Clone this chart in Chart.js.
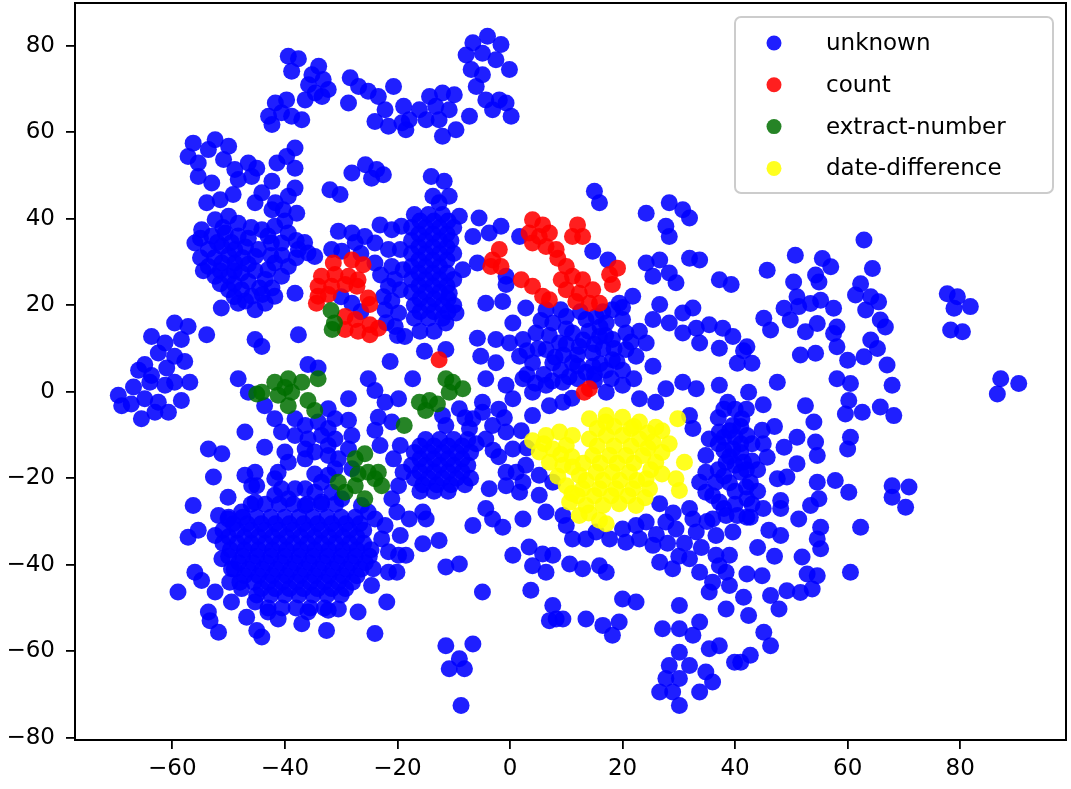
<!DOCTYPE html>
<html>
<head>
<meta charset="utf-8">
<title>t-SNE scatter</title>
<script src="https://cdn.jsdelivr.net/npm/chart.js@4.4.1/dist/chart.umd.min.js"></script>
<style>
    html, body { margin: 0; padding: 0; background: #ffffff; }
    #wrap { width: 1071px; height: 789px; }
</style>
</head>
<body>
<div id="wrap"><canvas id="tsneChart" width="1071" height="789"></canvas></div>
<script>
// Eixos
const xTicks = [-60, -40, -20, 0, 20, 40, 60, 80];
const yTicks = [-80, -60, -40, -20, 0, 20, 40, 60, 80];
const seriesLabels = ['unknown', 'count', 'extract-number', 'date-difference'];

// unknown - aglomerados do alto
const unknownTop = [
    [-39.4,77.6],[-37.6,77.0],[-38.8,74.1],
    [-34.0,75.3],[-35.2,73.3],[-33.2,72.2],[-35.8,71.0],[-32.3,69.9],[-34.6,69.1],[-36.4,67.5],[-33.4,68.3],
    [-28.4,72.6],[-26.9,70.6],[-25.2,69.5],[-23.4,68.3],[-20.7,70.6],[-28.7,66.8],[-22.2,65.2],[-24.0,62.5],[-21.6,61.4],[-19.2,62.2],[-18.9,66.0],
    [-41.7,66.8],[-39.7,67.5],[-42.9,63.7],[-40.6,64.5],[-38.8,63.7],[-37.0,62.9],[-42.3,61.8],
    [-6.6,80.7],[-4.0,82.2],[-1.6,80.3],[-7.8,77.9],[-4.9,78.3],[-2.5,76.8],[-6.9,74.5],[-4.9,73.3],[-0.1,74.5],
    [-6.0,70.6],[-4.3,67.5],[-1.9,67.5],[-0.7,66.8],[-3.1,65.2],[0.2,63.7],
    [-14.3,68.3],[-12.0,69.1],[-9.9,68.7],[-16.1,65.2],[-13.2,66.0],[-10.8,65.2],[-17.9,62.9],[-14.9,62.9],
    [-12.6,62.9],[-9.6,60.6],[-12.0,59.1],[-7.2,63.7],[-18.5,60.6]
];

// unknown - quadrante superior esquerdo
const unknownUpperLeft = [
    [-56.3,57.5],[-57.2,54.4],[-55.4,52.9],[-52.4,58.3],[-50.0,56.8],[-53.6,56.0],[-50.9,53.7],[-48.9,51.4],[-46.5,52.9],
    [-45.0,51.7],[-55.4,49.8],[-53.0,48.3],[-48.3,49.1],[-45.9,49.8],
    [-38.2,56.4],[-39.7,54.4],[-41.4,52.9],[-38.2,51.7],[-42.3,48.7],
    [-28.1,50.6],[-25.7,52.5],[-23.7,51.4],[-22.5,50.2],[-24.6,49.4],
    [-32.0,46.7],[-30.2,45.6],[-53.9,43.7],[-51.5,44.4],[-49.2,45.6],
    [-44.1,46.0],[-45.3,43.7],[-41.7,43.7],[-39.4,45.2],[-38.2,47.1],[-37.9,41.3],[-40.3,42.1],[-42.3,42.1],
    [-54.8,37.5],[-52.4,39.8],[-50.0,40.6],[-48.3,39.0],[-56.0,34.4],[-53.0,36.0],[-50.6,36.7],[-48.3,36.0],
    [-53.6,32.9],[-51.2,33.6],[-48.9,32.9],[-53.6,29.0],[-51.2,29.8],[-48.9,29.8],[-52.4,26.7],[-50.0,26.7],
    [-47.7,27.5],[-50.0,23.6],[-47.7,23.6],[-48.3,20.5],[-45.9,22.1],[-45.3,19.0],
    [-45.3,28.0],[-43.5,26.0],[-42.3,24.0],[-43.5,20.5],[-41.8,22.1],[-51.3,19.4],[-38.2,22.8],
    [-44.1,37.5],[-41.8,38.3],[-39.4,36.7],[-42.4,34.4],[-44.7,32.9],[-40.6,34.4],[-35.9,32.1],[-34.7,31.3],[-37.6,32.9],
    [-41.8,29.8],[-39.4,29.0],[-40.6,26.7],[-43.0,28.2],[-45.3,31.3],
    [-63.7,12.8],[-59.6,15.9],[-57.2,15.1],[-53.9,13.2],[-61.3,11.3],[-58.4,12.1],[-62.5,9.0],[-59.6,8.2],
    [-64.9,6.3],[-57.8,7.0],[-66.0,5.0],[-61.0,5.5],
    [-37.6,13.2],[-45.3,12.1],[-44.1,10.5],[-35.9,6.3],[-34.1,5.5]
];

// unknown - preenchimento do bloco esquerdo (-57..-36, 20..40)
const unknownLeftFill = [
    [-55,35.5],[-52,34.5],[-49.5,34.5],[-47,33.5],[-55,31],[-52.5,31],[-50,31.5],[-47.5,31],[-54.5,28],[-51.5,28],
    [-49,28],[-46.5,29.5],[-51.5,25],[-49,25],[-46.5,25.5],[-44.5,24],[-49,22],[-47,21],[-44,22.5],[-51,38],
    [-46,38],[-46.5,35.5],[-43,36],[-40.5,31.5],[-38,31],[-42.5,31.5],[-38,35],[-36.5,34.5],[-40,39.5]
];

// unknown - bloco em torno de (-20, 30)
const unknownUpperMid = [
    [-30.5,37.1],[-28.1,36.7],[-25.8,35.9],[-23.1,38.6],[-21.0,37.5],[-19.3,38.3],[-24.0,34.4],[-21.6,32.9],
    [-19.5,32.9],[-31.7,32.9],[-29.9,32.5],[-24.0,29.8],[-21.0,29.0],[-19.0,28.2],[-21.6,24.4],[-19.5,23.6],
    [-22.2,19.0],[-19.8,18.2],[-20.4,15.1],[-18.7,12.8],[-21.3,7.0],
    [-27.5,34.5],[-26.5,32.0],[-23.0,27.0],[-22.5,22.0],[-20.5,26.0],[-21.0,21.0],[-22.0,16.0],[-20.0,13.0],
    [-28.1,20.5],[-26.5,18.5],[-30.0,22.0],
    [-17.0,41.0],[-14.5,41.0],[-12.0,41.0],
    [-17.5,38.0],[-15.0,38.0],[-12.5,38.0],[-10.0,38.0],
    [-17.5,35.0],[-15.0,35.0],[-12.5,35.0],[-10.5,35.0],
    [-17.5,32.0],[-15.0,32.0],[-12.5,32.0],[-10.0,32.0],
    [-17.5,29.0],[-15.0,29.0],[-12.5,29.0],
    [-17.5,26.0],[-15.0,26.0],[-12.5,26.0],[-10.0,26.0],
    [-17.5,23.0],[-15.0,23.0],[-12.5,23.0],
    [-17.0,20.0],[-14.5,20.0],[-12.0,20.0],[-10.0,20.0],
    [-17.0,17.0],[-14.5,17.0],[-12.0,17.0],
    [-16.0,14.0],[-13.5,14.0],
    [-16.0,39.5],[-13.5,39.5],[-11.0,39.5],[-16.2,36.5],[-13.7,36.5],[-11.2,36.5],[-16.2,33.5],[-13.7,33.5],
    [-11.2,33.5],[-16.2,30.5],[-13.7,30.5],[-11.2,30.5],[-16.2,27.5],[-13.7,27.5],[-11.2,27.5],[-16.2,24.5],
    [-13.7,24.5],[-11.2,24.5],[-16.0,21.5],[-13.5,21.5],[-11.0,21.5],[-16.0,18.5],[-13.5,18.5],[-11.0,18.5],
    [-10.8,22.8],[-9.6,18.2],[-11.4,15.9],
    [-14.0,49.8],[-11.7,48.7],[-13.7,45.2],[-10.8,45.2],[-12.6,43.7],
    [-9.0,40.6],[-5.5,40.2],[-1.6,38.3],[-3.7,36.7],[-6.6,35.9],[-5.8,29.8],[-8.4,28.2],[1.7,35.9],
    [-0.7,24.8],[-4.3,20.5],[-1.3,20.9],[0.5,15.9],[-5.8,12.4],[-2.5,12.1],[-0.1,11.3],[-15.2,9.4],
    [-11.4,9.8],[-5.2,8.2],[-2.5,6.7],[-0.7,26.7]
];

// unknown - quadrante superior direito
const unknownUpperRight = [
    [15.0,46.4],[15.9,43.7],
    [24.2,41.3],[28.3,43.7],[30.7,42.1],[31.9,40.2],[27.7,38.3],[28.3,35.9],
    [24.2,29.8],[26.6,30.5],[25.4,26.7],[28.3,27.5],[29.5,25.2],[31.9,30.9],[33.7,30.5],[37.2,25.9],[39.3,24.8],
    [26.6,20.2],[30.7,18.2],[32.5,19.4],[25.4,16.7],[28.3,15.9],[30.7,13.6],[33.1,14.7],[35.4,15.5],
    [37.8,14.7],[33.7,11.3],[37.2,10.1],[39.6,12.8],[24.2,11.3],[22.4,8.2],[25.4,5.9],
    [21.8,22.1],[17.4,30.5],[14.7,32.5],[19.4,20.5],
    [2.8,19.4],[6.4,19.0],[2.3,12.1],[4.6,13.6],[7.6,15.9],[10.0,17.4],[11.1,13.6],[13.5,16.7],[15.3,17.4],
    [17.1,15.9],[18.2,19.0],[20.0,16.7],[20.6,13.6],[18.2,12.1],[15.9,12.8],[6.4,9.8],[8.8,11.3],[12.3,10.5],
    [14.7,9.0],[4.0,6.7],[7.6,6.7],[11.1,6.7],[14.7,5.9],[18.2,7.4],[20.6,9.8],[1.7,8.2],
    [9.5,8.5],[13.0,12.0],[16.5,10.0],
    [3.0,4.0],[6.0,4.0],[9.0,5.0],[12.0,6.0],[15.0,4.0],[17.0,5.0],[5.0,10.0],[10.0,11.0],[14.0,14.0],
    [17.0,13.0],[20.0,5.0],[22.0,3.0],
    [4.5,2.0],[7.5,2.5],[10.5,3.5],[13.5,4.5],[16.0,6.5],[19.0,7.0],[3.0,9.5],[8.0,8.0],[12.0,8.5],[15.0,11.0],
    [18.5,10.0],[21.5,11.5],[7.0,13.0],[10.0,14.5],[16.0,15.0],[5.5,16.5],[9.0,19.0],[12.5,18.5],[16.5,18.5],
    [20.0,19.5],[23.0,14.0],
    [45.7,28.1],[50.7,31.6],[55.5,30.8],[57.0,28.9],[54.3,27.0],[54.9,25.4],[50.4,25.4],[62.9,35.1],
    [64.4,28.5],[62.3,25.0],[61.4,22.4],[64.1,22.0],[65.5,20.8],[63.2,18.9],[51.0,22.0],[48.7,19.3],
    [51.3,19.7],[53.4,20.4],[55.2,21.2],[57.5,19.3],[49.8,16.6],[45.1,17.0],[46.3,14.3],[52.5,13.9],
    [54.6,15.8],[58.1,15.0],[57.5,13.5],[58.1,10.4],[51.6,8.5],[54.3,8.9],[60.0,7.3],[62.9,8.1],
    [65.3,10.0],[64.1,12.0],[66.7,15.0],[65.8,16.6],[42.1,10.4],[43.0,6.6],[40.4,6.6],[67.0,6.2],[41.5,9.5],
    [77.7,22.7],[79.5,22.0],[81.8,19.7],[78.9,19.3],[78.3,14.3],[80.4,13.9]
];

// unknown - quadrante inferior esquerdo
const unknownLowerLeft = [
    [-69.6,-0.8],[-66.9,1.1],[-64.0,2.2],[-61.3,1.5],[-59.6,2.2],[-56.9,2.2],[-67.3,-2.8],[-64.9,-1.6],
    [-62.5,-2.4],[-65.5,-6.2],[-60.7,-4.7],[-58.4,-2.0],[-63.1,-4.7],[-63.7,3.8],[-69.0,-3.2],
    [-48.3,3.0],[-46.5,-0.1],[-43.6,-3.2],[-41.8,-6.2],[-38.2,-6.2],[-36.4,-7.8],[-34.1,-7.0],[-32.3,-3.9],
    [-31.1,-6.2],[-32.3,-8.5],[-28.7,-1.6],[-28.7,-6.6],[-28.1,-10.1],[-25.2,3.0],[-24.0,0.3],[-22.2,-2.4],
    [-19.8,-1.6],[-23.4,-5.9],[-21.0,-7.0],[-24.0,-8.9],[-23.1,-12.4],[-20.7,-15.5],[-19.5,-12.4],[-19.0,-18.6],
    [-19.8,-21.7],[-20.1,-27.8],[-19.5,-33.2],[-19.8,-37.8],[-20.1,-41.7],[-21.9,-48.6],[-24.0,-55.9],
    [-47.1,-9.3],[-43.6,-12.8],[-53.6,-13.2],[-51.2,-14.3],[-52.7,-19.7],[-47.1,-19.3],[-45.3,-18.6],[-45.0,-21.7],
    [-41.2,-18.6],[-39.4,-16.3],[-40.0,-13.9],[-36.4,-15.5],[-34.7,-13.9],[-32.3,-12.4],[-34.7,-19.0],[-36.4,-22.4],
    [-32.3,-19.3],[-56.3,-26.3],[-50.1,-24.4],[-55.4,-32.0],[-57.2,-33.6],[-59.0,-46.3],[-56.0,-41.7],[-54.8,-43.6],
    [-52.4,-46.3],[-53.6,-50.9],[-53.3,-52.9],[-51.8,-55.6],[-49.5,-48.6],[-46.8,-52.1],[-45.0,-55.2],[-44.1,-56.7],
    [-37.0,-53.6],[-32.6,-55.2],[-27.0,-50.9],
    [-35.9,-10.9],[-33.5,-10.1],[-38.2,-10.1],[-40.6,-9.3],[-36.4,-13.2],[-32.3,-14.7],[-30.5,-15.5],[-28.7,-13.2],
    [-31.1,-10.9],[-28.1,-17.8],[-31.1,-17.8],[-33.5,-20.9],[-31.7,-23.2],[-34.7,-23.2],[-38.2,-22.4],[-21.0,-24.7],
    [-21.6,-37.0],[-41.8,-20.1],[-40.6,-22.4],[-45.9,-21.7]
];

// unknown - nucleo denso em torno de (-38, -38)
const unknownCore = [
    [-51.8,-28.6],[-52.4,-33.2],[-51.2,-38.6],[-49.5,-40.9],[-49.8,-44.0],[-47.7,-45.5],[-45.3,-48.6],[-43.0,-50.9],
    [-41.2,-52.5],[-35.9,-50.9],[-32.3,-50.5],[-30.5,-50.2],[-24.6,-44.8],[-24.3,-40.9],[-21.6,-41.7],[-22.8,-34.0],
    [-22.2,-30.9],[-24.0,-29.4],[-25.2,-27.8],[-26.4,-26.3],[-29.9,-24.7],[-33.5,-25.5],[-36.4,-26.3],[-39.4,-24.7],
    [-41.8,-23.9],[-45.3,-25.5],[-47.7,-27.8],[-50.1,-29.4],
    [-46,-26],[-43.5,-26],[-41,-26],[-38.5,-26],[-36,-26],[-33.5,-26],[-31,-26],
    [-50,-29],[-47.5,-29],[-45,-29],[-42.5,-29],[-40,-29],[-37.5,-29],[-35,-29],[-32.5,-29],[-30,-29],[-27.5,-29],
    [-51,-32],[-48.5,-32],[-46,-32],[-43.5,-32],[-41,-32],[-38.5,-32],[-36,-32],[-33.5,-32],[-31,-32],[-28.5,-32],[-26,-32],
    [-51,-35],[-48.5,-35],[-46,-35],[-43.5,-35],[-41,-35],[-38.5,-35],[-36,-35],[-33.5,-35],[-31,-35],[-28.5,-35],[-26,-35],
    [-50,-38],[-47.5,-38],[-45,-38],[-42.5,-38],[-40,-38],[-37.5,-38],[-35,-38],[-32.5,-38],[-30,-38],[-27.5,-38],[-25,-38],
    [-49,-41],[-46.5,-41],[-44,-41],[-41.5,-41],[-39,-41],[-36.5,-41],[-34,-41],[-31.5,-41],[-29,-41],[-26.5,-41],
    [-48,-44],[-45.5,-44],[-43,-44],[-40.5,-44],[-38,-44],[-35.5,-44],[-33,-44],[-30.5,-44],[-28,-44],
    [-45,-47],[-42.5,-47],[-40,-47],[-37.5,-47],[-35,-47],[-32.5,-47],[-30,-47],
    [-43,-50],[-40.5,-50],[-38,-50],[-35.5,-50],[-33,-50]
];

// unknown - preenchimento intercalado do nucleo
const unknownCoreFill = [
    [-49.2,-30.5],[-46.7,-30.5],[-44.2,-30.5],[-41.7,-30.5],[-39.2,-30.5],[-36.7,-30.5],[-34.2,-30.5],[-31.7,-30.5],[-29.2,-30.5],[-26.7,-30.5],
    [-50.0,-33.5],[-47.2,-33.5],[-44.7,-33.5],[-42.2,-33.5],[-39.7,-33.5],[-37.2,-33.5],[-34.7,-33.5],[-32.2,-33.5],[-29.7,-33.5],[-27.2,-33.5],
    [-49.7,-36.5],[-47.2,-36.5],[-44.7,-36.5],[-42.2,-36.5],[-39.7,-36.5],[-37.2,-36.5],[-34.7,-36.5],[-32.2,-36.5],[-29.7,-36.5],[-27.2,-36.5],[-24.7,-36.5],
    [-48.2,-39.5],[-45.7,-39.5],[-43.2,-39.5],[-40.7,-39.5],[-38.2,-39.5],[-35.7,-39.5],[-33.2,-39.5],[-30.7,-39.5],[-28.2,-39.5],[-25.7,-39.5],
    [-47.2,-42.5],[-44.7,-42.5],[-42.2,-42.5],[-39.7,-42.5],[-37.2,-42.5],[-34.7,-42.5],[-32.2,-42.5],[-29.7,-42.5],[-27.2,-42.5],
    [-44.2,-45.5],[-41.7,-45.5],[-39.2,-45.5],[-36.7,-45.5],[-34.2,-45.5],[-31.7,-45.5],[-29.2,-45.5]
];

// unknown - metade inferior central
const unknownLowerMid = [
    [-15,-11],[-12.5,-11],[-10,-11],[-7.5,-11],
    [-17,-14],[-14.5,-14],[-12,-14],[-9.5,-14],[-7,-14],
    [-17.5,-17],[-15,-17],[-12.5,-17],[-10,-17],[-7.5,-17],
    [-17,-20],[-14.5,-20],[-12,-20],[-9.5,-20],[-7,-20],
    [-16,-23],[-13.5,-23],[-11,-23],
    [-16,-12.5],[-13.5,-12.5],[-11,-12.5],[-8.5,-12.5],[-16,-15.5],[-13.5,-15.5],[-11,-15.5],[-8.5,-15.5],
    [-16,-18.5],[-13.5,-18.5],[-11,-18.5],[-8.5,-18.5],[-15.5,-21.5],[-13,-21.5],[-10.5,-21.5],[-8,-21.5],
    [-17.3,3.0],[-4.3,3.0],[-0.7,1.5],[2.3,3.0],[6.4,1.5],[9.4,2.2],[-4.9,-2.4],[0.5,-1.6],[4.0,-0.1],[7.0,-3.2],
    [9.4,-2.4],[4.0,-5.5],[-9.0,-3.9],[-6.6,-6.2],[-3.1,-7.8],[-4.3,-10.9],[-0.7,-9.3],[0.5,-13.2],[-4.9,-4.7],
    [-7.2,-8.5],[-11.4,-7.8],[-12.0,-5.5],[-2.0,-15.0],[-3.0,-13.5],
    [-2.0,-4.0],[-6.0,-12.0],[-1.0,-6.0],[2.0,-9.0],[-8.0,-6.0],[3.0,-13.0],
    [12,3],[15,2.5],[18,3],[11,-1.5],
    [-0.7,-18.6],[1.1,-18.6],[2.8,-17.0],[2.3,-20.9],[-0.7,-21.7],[5.2,-19.3],[7.6,-20.9],[5.2,-23.9],[1.7,-23.2],
    [-3.7,-22.4],[-4.3,-27.0],[-3.1,-29.4],[-1.3,-31.3],[-6.6,-30.9],[-15.5,-27.8],[-17.9,-29.4],[-14.9,-29.4],
    [-12.6,-34.4],[-15.5,-35.1],[-18.5,-37.8],[0.5,-37.8],[3.4,-35.9],[5.8,-37.5],[7.6,-37.8],[4.0,-40.2],[6.4,-41.7],
    [10.6,-39.8],[12.9,-40.9],[15.9,-40.2],[17.1,-41.7],[-11.4,-40.5],[-9.0,-39.8],[-4.9,-46.3],[3.7,-45.9],
    [7.6,-49.4],[8.2,-52.5],[7.0,-52.9],[9.4,-52.5],[13.5,-52.5],[16.5,-54.0],[18.2,-56.3],[19.4,-53.2],
    [-11.4,-58.7],[-6.6,-58.3],[-9.0,-61.7],[-10.8,-64.0],[-8.1,-64.0],[-8.7,-72.5],
    [10.0,-30.9],[11.1,-34.0],[13.5,-34.0],[15.3,-32.4],[9.4,-28.6],[6.4,-27.8],[2.3,-29.4]
];

// unknown - quadrante inferior direito
const unknownLowerRight = [
    [17.1,-0.1],[20.0,1.5],[23.0,-1.6],[25.9,-2.4],[27.7,0.7],[30.7,2.2],[33.1,0.7],[37.2,1.5],[38.7,-2.4],
    [31.9,-5.5],[32.5,-8.5],[37.2,-9.3],[39.6,-7.8],[39.6,-13.2],[38.4,-16.3],[34.8,-18.6],[33.7,-20.9],
    [36.6,-20.9],[34.8,-23.2],[37.2,-25.5],[31.9,-27.0],[32.5,-29.4],[36.0,-29.4],[38.4,-28.6],[29.5,-31.7],
    [33.1,-32.4],[36.6,-33.2],[39.6,-32.4],[27.7,-30.1],[26.6,-25.9],[24.2,-30.1],[22.4,-30.9],[20.0,-31.7],
    [17.7,-34.0],[20.6,-34.8],[23.0,-34.0],[25.4,-35.5],[36.6,-37.8],[39.0,-37.8],
    [28.0,-35.0],[31.0,-35.0],[34.0,-36.0],[30.0,-38.0],[35.0,-30.0],[29.0,-28.0],[26.0,-33.0],
    [20.0,-47.9],[22.4,-48.6],[30.1,-49.4],[26.6,-39.4],[28.9,-40.9],[31.9,-38.6],[33.7,-41.7],[36.0,-44.0],
    [38.4,-41.7],[37.2,-40.2],[39.0,-44.8],[35.4,-46.3],[27.1,-54.8],[30.1,-54.8],[32.5,-56.3],[33.7,-53.2],
    [35.4,-59.4],[37.2,-58.7],[38.4,-50.2],[30.1,-60.2],[28.3,-63.3],[31.9,-63.3],[27.7,-66.3],[30.1,-66.3],
    [26.6,-69.4],[28.9,-69.4],[30.1,-72.5],[33.7,-69.4],[34.8,-64.8],[36.0,-67.1],[39.9,-62.5],
    [37,-6],[39,-9],[37,-12],[39,-15],[37,-18],[39,-21],[41,-8],[41,-12],[41,-14],[43,-12],[43,-16],
    [35.4,-10.9],[34.8,-14.7],
    [38,-4],[40,-4],[38,-10.5],[40,-10.5],[38,-13.5],[40,-17],[38,-19.5],[40,-23],[42,-22],[36,-24],
    [38,-27],[42,-4],[42,-18],[40,-26],[43,-26],
    [44.0,-18.0],[44.0,-23.0],[45.0,-27.0],[46.0,-32.0],[44.0,-36.0],[47.0,-38.0],[45.0,-12.0],[47.0,-8.0],[45.0,-3.0],
    [87.2,3.0],[90.4,1.9],[86.6,-0.5],
    [47.5,2.2],[42.4,-0.1],[58.1,3.0],[60.5,1.9],[67.9,1.5],
    [52.5,-3.2],[60.2,-2.0],[59.6,-5.1],[62.6,-4.7],[65.8,-3.5],[68.2,-5.5],
    [41.2,-6.2],[44.8,-8.9],[42.1,-10.1],[54.0,-7.0],[51.0,-10.5],[48.7,-12.8],[45.7,-15.1],[54.3,-11.6],
    [54.6,-14.7],[51.0,-16.6],[60.0,-13.2],[60.5,-10.5],[41.5,-16.3],[47.5,-20.1],[49.2,-19.7],[54.6,-20.9],
    [57.8,-20.5],[60.2,-23.2],[54.9,-24.7],[53.4,-26.3],[48.1,-25.1],[48.1,-27.0],[42.1,-24.7],[42.1,-29.0],
    [51.3,-29.4],[55.2,-31.3],[48.1,-33.2],[54.6,-34.0],[55.2,-36.3],[62.3,-31.3],[67.9,-21.7],[70.9,-22.0],
    [67.9,-24.4],[70.3,-26.7],[51.9,-38.2],[52.8,-42.1],[54.6,-42.5],[60.5,-41.7],[42.1,-42.1],[44.8,-42.5],
    [49.2,-46.0],[51.6,-46.4],[53.7,-45.6],[46.3,-47.1],[41.5,-47.5],[47.8,-50.2],[42.4,-51.7],[45.1,-55.6],
    [46.3,-58.7],[42.7,-60.9],[41.0,-62.5],[41.0,-18.6],[42.7,-20.9],[40.4,-28.6],[42.7,-29.0]
];

// count
const countPoints = [
    [-31.4,29.8],[-28.1,30.5],[-26.1,29.4],[-33.5,26.7],[-31.1,27.1],[-28.7,26.7],[-27.0,25.9],[-34.1,24.4],
    [-31.7,24.4],[-29.3,24.8],[-27.2,24.4],[-34.1,22.1],[-32.3,22.5],[-34.4,20.5],[-25.2,21.7],[-24.9,20.2],
    [-29.3,17.4],[-27.5,16.7],[-29.3,14.4],[-27.0,14.0],[-24.9,15.5],[-23.4,14.7],[-24.9,13.2],
    [4.0,39.8],[5.8,38.6],[3.4,36.7],[5.2,35.9],[7.0,36.7],[4.0,34.4],[6.4,33.6],[8.2,32.9],[8.5,30.9],
    [12.0,38.6],[11.1,35.9],[12.9,35.9],
    [-1.9,32.9],[-3.1,30.5],[-3.4,29.0],[-1.6,29.0],
    [2.0,25.9],[4.0,24.4],[5.8,22.1],[7.0,21.3],
    [10.0,29.0],[9.1,25.9],[11.1,26.7],[12.9,25.9],[14.7,23.6],[10.0,23.6],[12.3,22.8],[11.7,20.9],[14.1,20.5],[15.9,20.5],
    [19.1,28.6],[17.7,27.1],[18.2,24.8],
    [-12.6,7.4],[13.2,-0.1],[14.1,0.7]
];

// extract-number
const extractPoints = [
    [-31.8,18.8],[-31.2,15.9],[-31.6,14.4],
    [-45.0,-0.5],[-44.1,-0.1],[-41.8,2.2],[-39.4,3.0],[-37.0,2.2],[-41.2,-0.8],[-38.8,-0.1],[-39.4,-3.2],
    [-35.9,-2.0],[-34.7,-4.3],[-34.1,3.0],[-40.0,1.0],
    [-18.8,-7.8],
    [-27.5,-15.5],[-25.8,-14.3],[-30.5,-20.9],[-29.3,-23.2],[-27.5,-21.7],[-25.8,-24.7],[-24.0,-20.1],
    [-22.8,-21.7],[-25.2,-18.6],[-23.4,-18.6],[-27.0,-19.0],
    [-10.2,2.2],[-11.4,3.0],[-8.4,0.7],[-10.8,-0.1],[-16.1,-2.4],[-14.3,-2.0],[-12.9,-2.8],[-15.0,-4.3]
];

// date-difference
const datePoints = [
    [4.0,-11.3],[6.4,-10.1],[8.8,-9.3],[11.1,-10.1],[5.2,-13.9],[7.6,-13.2],[10.0,-12.4],[7.0,-16.3],
    [9.4,-17.0],[11.1,-17.4],[14.1,-6.2],[17.1,-5.5],[20.0,-5.9],[23.0,-7.0],[25.9,-8.2],[29.8,-6.2],
    [14.1,-10.9],[17.1,-10.1],[20.0,-10.1],[23.0,-10.9],[25.4,-11.6],[28.3,-12.0],[14.7,-14.7],[17.7,-14.7],
    [20.6,-14.7],[23.6,-14.7],[25.9,-16.3],[31.0,-16.3],[12.3,-19.3],[15.3,-18.6],[18.2,-18.6],[21.2,-18.6],
    [24.2,-20.1],[29.5,-20.1],[30.1,-22.8],[10.0,-21.7],[12.9,-22.4],[15.9,-22.4],[18.8,-22.4],[21.8,-22.4],
    [24.8,-22.4],[10.6,-25.5],[13.5,-26.3],[16.5,-26.3],[19.4,-25.9],[22.4,-26.3],[12.3,-28.6],[15.9,-29.7],
    [17.1,-30.5],[17.0,-7.0],[22.0,-8.0],[27.0,-9.0],
    [15.5,-8.5],[18.5,-8.0],[21.5,-8.5],[24.5,-9.5],[15.5,-12.5],[18.5,-12.5],[21.5,-12.5],[24.5,-13.0],
    [27.0,-14.0],[13.0,-16.5],[16.0,-16.5],[19.0,-16.5],[22.0,-16.5],[25.0,-18.0],[11.0,-15.0],[13.5,-20.5],
    [16.5,-20.5],[19.5,-20.5],[22.5,-20.5],[12.0,-24.0],[15.0,-24.0],[18.0,-24.0],[21.0,-24.0],[24.0,-24.5],
    [14.0,-28.0],[11.0,-23.5],[27.0,-19.0],[9.0,-14.5],[6.0,-12.0],[8.5,-19.5]
];

const colors = {
    unknown: 'rgba(0, 0, 255, 0.88)',
    count: 'rgba(255, 0, 0, 0.88)',
    extract: 'rgba(0, 110, 0, 0.85)',
    date: 'rgba(255, 255, 0, 0.88)'
};

const FONT = '"DejaVu Sans", sans-serif';

function toPoints(pairs) {
    return pairs.map(p => ({ x: p[0], y: p[1] }));
}

function minusSign(value) {
    return String(value).replace('-', '\u2212');
}

// Moldura preta em volta da area do grafico
const framePlugin = {
    id: 'frame',
    afterDraw(chart) {
        const { ctx, chartArea: a } = chart;
        ctx.save();
        ctx.strokeStyle = '#000000';
        ctx.lineWidth = 2;
        ctx.strokeRect(a.left, a.top, a.right - a.left, a.bottom - a.top);
        ctx.restore();
    }
};

// Legenda no canto superior direito, dentro da area
const legendPlugin = {
    id: 'insideLegend',
    afterDraw(chart) {
        const ctx = chart.ctx;
        const box = { x: 735, y: 17, w: 318, h: 176 };
        ctx.save();
        ctx.beginPath();
        ctx.roundRect(box.x, box.y, box.w, box.h, 6);
        ctx.fillStyle = 'rgba(255,255,255,0.8)';
        ctx.fill();
        ctx.strokeStyle = '#cccccc';
        ctx.lineWidth = 2;
        ctx.stroke();

        ctx.font = '23px ' + FONT;
        ctx.textBaseline = 'middle';
        ctx.textAlign = 'left';
        chart.data.datasets.forEach((ds, i) => {
            const cy = 43 + i * 41.8;
            ctx.beginPath();
            ctx.arc(774, cy, 7.5, 0, Math.PI * 2);
            ctx.fillStyle = ds.backgroundColor;
            ctx.fill();
            ctx.fillStyle = '#000000';
            ctx.fillText(ds.label, 826, cy + 1);
        });
        ctx.restore();
    }
};

function buildAxis(min, max, tickValues, isX) {
    return {
        type: 'linear',
        min: min,
        max: max,
        afterBuildTicks: axis => { axis.ticks = tickValues.map(v => ({ value: v })); },
        afterFit: scale => {
            // sem folga extra para os rotulos nas pontas
            scale.paddingTop = 0;
            scale.paddingBottom = 0;
            scale.paddingLeft = 0;
            scale.paddingRight = 0;
            if (isX) scale.height = 49; else scale.width = 75;
        },
        grid: {
            display: true,
            drawOnChartArea: false,
            drawTicks: true,
            tickLength: 9,
            color: '#000000',
            lineWidth: 1.8
        },
        border: { display: true, color: '#000000', width: 2 },
        ticks: {
            color: '#000000',
            font: { family: FONT, size: 23 },
            padding: isX ? 6 : 11,
            maxRotation: 0,
            autoSkip: false,
            callback: value => minusSign(value)
        }
    };
}

function initializeChart() {
    const ctx = document.getElementById('tsneChart');
    const unknownAll = [].concat(unknownTop, unknownUpperLeft, unknownLeftFill, unknownUpperMid, unknownUpperRight,
        unknownLowerLeft, unknownCore, unknownCoreFill, unknownLowerMid, unknownLowerRight);

    const pointStyle = { pointRadius: 8.5, pointHoverRadius: 8.5, borderWidth: 0 };

    new Chart(ctx, {
        type: 'scatter',
        data: {
            datasets: [
                { label: seriesLabels[0], data: toPoints(unknownAll), backgroundColor: colors.unknown, order: 4, ...pointStyle },
                { label: seriesLabels[1], data: toPoints(countPoints), backgroundColor: colors.count, order: 3, ...pointStyle },
                { label: seriesLabels[2], data: toPoints(extractPoints), backgroundColor: colors.extract, order: 2, ...pointStyle },
                { label: seriesLabels[3], data: toPoints(datePoints), backgroundColor: colors.date, order: 1, ...pointStyle }
            ]
        },
        options: {
            responsive: false,
            animation: false,
            devicePixelRatio: 1,
            layout: { autoPadding: false, padding: { top: 3, right: 5, left: 0, bottom: 0 } },
            plugins: {
                legend: { display: false },
                tooltip: { enabled: false }
            },
            scales: {
                x: buildAxis(-77.3, 98.8, xTicks, true),
                y: buildAxis(-80.5, 89.9, yTicks, false)
            }
        },
        plugins: [framePlugin, legendPlugin]
    });
}

document.addEventListener('DOMContentLoaded', initializeChart);
</script>
</body>
</html>
